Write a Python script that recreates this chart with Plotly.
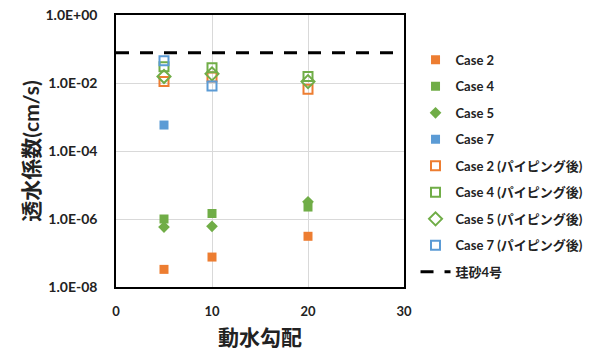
import plotly.graph_objects as go

gradient = [5, 10, 20]
case2 = [3.3e-8, 7.6e-8, 3.1e-7]
case4 = [1.0e-6, 1.45e-6, 2.25e-6]
case5 = [5.8e-7, 6.1e-7, 3.2e-6]
case7_x = [5]
case7 = [5.8e-4]
case2_after = [0.011, 0.015, 0.0066]
case4_after = [0.030, 0.028, 0.0155]
case5_after = [0.0155, 0.0186, 0.011]
case7_after_x = [5, 10]
case7_after = [0.045, 0.0082]
sand_x = [0, 30]
sand_k = [0.077, 0.077]

ORANGE = "#ED7D31"
GREEN = "#70AD47"
BLUE = "#5B9BD5"

fig = go.Figure()

def add(name, x, y, color, symbol, size, open_=False):
    marker = dict(color=color, symbol=symbol, size=size)
    if open_:
        marker["line"] = dict(color=color, width=2)
    fig.add_trace(go.Scatter(x=x, y=y, mode="markers", name=name, marker=marker,
                             legendgroup=name))

add("Case 2", gradient, case2, ORANGE, "square", 9)
add("Case 4", gradient, case4, GREEN, "square", 9)
add("Case 5", gradient, case5, GREEN, "diamond", 9)
add("Case 7", case7_x, case7, BLUE, "square", 9)
add("Case 2 (パイピング後)", gradient, case2_after, ORANGE, "square-open", 9, True)
add("Case 4 (パイピング後)", gradient, case4_after, GREEN, "square-open", 9, True)
add("Case 5 (パイピング後)", gradient, case5_after, GREEN, "diamond-open", 10, True)
add("Case 7 (パイピング後)", case7_after_x, case7_after, BLUE, "square-open", 9, True)
fig.add_trace(go.Scatter(x=sand_x, y=sand_k, mode="lines", name="珪砂4号",
                         line=dict(color="black", width=3, dash="13px,11px"),
                         legendgroup="sand"))

FONT = "Lato, 'Noto Sans CJK JP', sans-serif"
ytick_vals = [1, 1e-2, 1e-4, 1e-6, 1e-8]
ytick_text = ["1.0E+00", "1.0E-02", "1.0E-04", "1.0E-06", "1.0E-08"]
xtick_vals = [0, 10, 20, 30]

fig.update_layout(
    width=602, height=349,
    margin=dict(l=116, r=198, t=15, b=62, autoexpand=False),
    plot_bgcolor="white", paper_bgcolor="white",
    font=dict(family=FONT, color="#222"),
    showlegend=True,
    legend=dict(x=1.04, y=0.89, xanchor="left", yanchor="top",
                font=dict(size=13, family=FONT, color="#222", weight="bold"),
                tracegroupgap=6.6, bgcolor="rgba(0,0,0,0)"),
    xaxis=dict(range=[0, 30], tickvals=xtick_vals, showgrid=True, gridcolor="#D9D9D9",
               zeroline=False, showline=True, linecolor="black", linewidth=1.5, mirror=True,
               automargin=False,
               tickfont=dict(size=13, weight="bold"), ticklabelstandoff=12,
               title=dict(text="動水勾配", font=dict(size=21, weight="bold"), standoff=13)),
    yaxis=dict(type="log", range=[-8, 0], tickvals=ytick_vals, ticktext=ytick_text,
               showgrid=True, gridcolor="#D9D9D9", zeroline=False, automargin=False,
               showline=True, linecolor="black", linewidth=1.5, mirror=True,
               tickfont=dict(size=14, weight="bold"), ticklabelstandoff=14,
               title=dict(text="透水係数(cm/s)", font=dict(size=21, weight="bold"), standoff=0)),
)

fig.write_html("out.html", config={"displayModeBar": False},
               post_script="document.body.style.margin='0px';")
